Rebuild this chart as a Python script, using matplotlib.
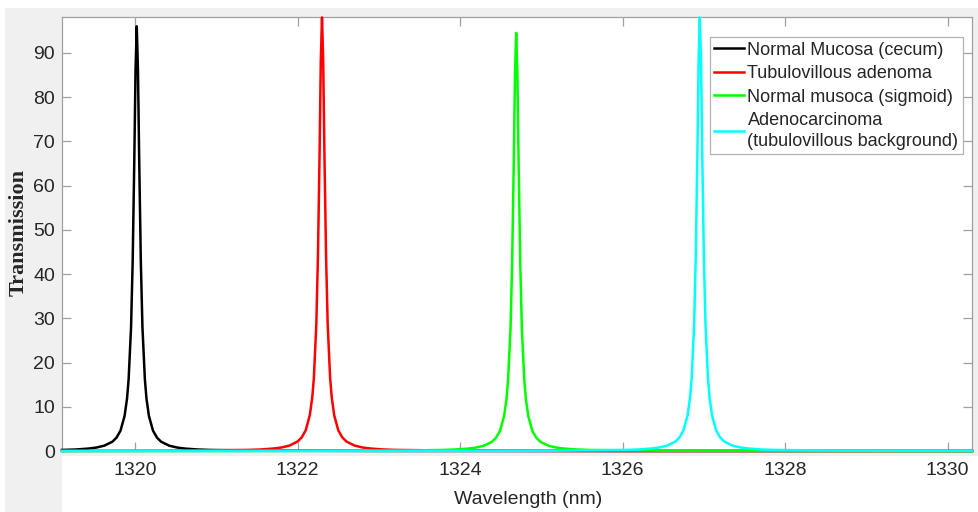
import matplotlib
matplotlib.use("Agg")
import matplotlib.pyplot as plt
from matplotlib.patches import Rectangle

plt.rcParams['font.family'] = ['Liberation Sans', 'DejaVu Sans']

# ---- data (wavelength in nm, transmission) ----
black_wl = [1319.10, 1319.27, 1319.42, 1319.52, 1319.62, 1319.72, 1319.77, 1319.82, 1319.87,
            1319.90, 1319.92, 1319.95, 1319.97, 1319.99, 1320.005, 1320.02, 1320.035, 1320.05,
            1320.07, 1320.09, 1320.12, 1320.14, 1320.17, 1320.22, 1320.27, 1320.32, 1320.42,
            1320.52, 1320.62, 1320.77, 1320.92, 1321.5, 1323.0, 1326.0, 1330.3]
black_t = [0.24, 0.34, 0.54, 0.77, 1.2, 2.1, 3.0, 4.6, 7.9, 11.8, 16.2, 28, 43, 66, 86, 96,
           86, 66, 43, 28, 16.2, 11.8, 7.9, 4.6, 3.0, 2.1, 1.2, 0.77, 0.54, 0.34, 0.24,
           0.09, 0.02, 0.0, 0.0]

red_wl = [1319.10, 1320.50, 1321.40, 1321.55, 1321.70, 1321.80, 1321.90, 1322.00, 1322.05,
          1322.10, 1322.15, 1322.18, 1322.20, 1322.23, 1322.25, 1322.27, 1322.285, 1322.30,
          1322.315, 1322.33, 1322.35, 1322.37, 1322.40, 1322.42, 1322.45, 1322.50, 1322.55,
          1322.60, 1322.70, 1322.80, 1322.90, 1323.05, 1323.20, 1324.00, 1326.00, 1330.30]
red_t = [0.02, 0.06, 0.25, 0.35, 0.56, 0.79, 1.23, 2.15, 3.07, 4.7, 8.1, 12.1, 16.5, 28.6,
         44, 67, 88, 98, 88, 67, 44, 28.6, 16.5, 12.1, 8.1, 4.7, 3.07, 2.15, 1.23, 0.79,
         0.56, 0.35, 0.25, 0.07, 0.01, 0.0]

green_wl = [1319.10, 1322.00, 1323.30, 1323.79, 1323.94, 1324.09, 1324.19, 1324.29, 1324.39,
            1324.44, 1324.49, 1324.54, 1324.57, 1324.59, 1324.62, 1324.64, 1324.66, 1324.675,
            1324.69, 1324.705, 1324.72, 1324.74, 1324.76, 1324.79, 1324.81, 1324.84, 1324.89,
            1324.94, 1324.99, 1325.09, 1325.19, 1325.29, 1325.44, 1325.59, 1326.5, 1328.0,
            1330.3]
green_t = [0.0, 0.03, 0.1, 0.24, 0.34, 0.53, 0.76, 1.18, 2.05, 2.96, 4.5, 7.8, 11.6, 16,
           27.5, 42.5, 65, 85, 94.5, 85, 65, 42.5, 27.5, 16, 11.6, 7.8, 4.5, 2.96, 2.05,
           1.18, 0.76, 0.53, 0.34, 0.24, 0.06, 0.02, 0.0]

cyan_wl = [1319.10, 1323.0, 1325.2, 1326.05, 1326.20, 1326.35, 1326.45, 1326.55, 1326.65,
           1326.70, 1326.75, 1326.80, 1326.83, 1326.85, 1326.88, 1326.90, 1326.92, 1326.935,
           1326.95, 1326.965, 1326.98, 1327.00, 1327.02, 1327.05, 1327.07, 1327.10, 1327.15,
           1327.20, 1327.25, 1327.35, 1327.45, 1327.55, 1327.70, 1327.85, 1328.7, 1330.3]
cyan_t = [0.0, 0.01, 0.07, 0.25, 0.35, 0.56, 0.79, 1.23, 2.15, 3.07, 4.7, 8.1, 12.1, 16.5,
          28.6, 44, 67, 88, 98, 88, 67, 44, 28.6, 16.5, 12.1, 8.1, 4.7, 3.07, 2.15, 1.23,
          0.79, 0.56, 0.35, 0.25, 0.07, 0.02]

labels = ["Normal Mucosa (cecum)", "Tubulovillous adenoma", "Normal musoca (sigmoid)",
          "Adenocarcinoma\n(tubulovillous background)"]
xticks = [1320, 1322, 1324, 1326, 1328, 1330]
yticks = [0, 10, 20, 30, 40, 50, 60, 70, 80, 90]

W, H = 979, 512
fig = plt.figure(figsize=(W / 100, H / 100), dpi=100)
fig.patch.set_facecolor('white')

# grey window background (screenshot look)
gray = '#f0f0f0'
def px_rect(x0, y0, x1, y1):
    fig.patches.append(Rectangle((x0 / W, 1 - y1 / H), (x1 - x0) / W, (y1 - y0) / H,
                                 transform=fig.transFigure, facecolor=gray, edgecolor='none',
                                 zorder=-5))
px_rect(5, 8, 979, 17)
px_rect(5, 8, 62, 512)
px_rect(972, 8, 979, 456)
px_rect(62, 451, 979, 456)

ax = fig.add_axes([62 / W, 1 - 451 / H, (972 - 62) / W, (451 - 17) / H])
ax.set_facecolor('white')

colors = ['#000000', '#ff0000', '#00ff00', '#00ffff']
series = [(black_wl, black_t), (red_wl, red_t), (green_wl, green_t), (cyan_wl, cyan_t)]
for (wl, t), c, lab in zip(series, colors, labels):
    ax.plot(wl, t, color=c, lw=1.8, label=lab, clip_on=False, zorder=3)

ax.set_xlim(1319.1, 1330.3)
ax.set_ylim(0, 98.1)
ax.set_xticks(xticks)
ax.set_yticks(yticks)

spine_c = '#a0a0a0'
for s in ax.spines.values():
    s.set_color(spine_c)
    s.set_linewidth(0.9)
ax.tick_params(direction='in', top=True, right=True, length=6.5, width=0.9,
               color=spine_c, labelsize=14, labelcolor='#262626')
ax.tick_params(axis='x', pad=8)
ax.tick_params(axis='y', pad=5)

fig.text(19 / W, 1 - 233 / H, "Transmission", rotation=90, ha='center', va='center',
         family=['Liberation Serif', 'DejaVu Serif'], fontweight='bold', fontsize=16,
         color='#262626')
fig.text(528 / W, 1 - 500 / H, "Wavelength (nm)", ha='center', va='center',
         fontsize=14, color='#262626')

leg = ax.legend(loc='upper right', bbox_to_anchor=(963 / W, 1 - 37 / H),
                bbox_transform=fig.transFigure, fontsize=13, frameon=True,
                fancybox=False, handlelength=1.65, handletextpad=0.2,
                borderpad=0.25, labelspacing=0.36, borderaxespad=0)
leg.get_frame().set_edgecolor('#a0a0a0')
leg.get_frame().set_linewidth(0.9)
for t in leg.get_texts():
    t.set_color('#262626')
    t.set_multialignment('left')
    t.set_linespacing(1.3)

fig.savefig("out.png", dpi=100, facecolor=fig.get_facecolor())
